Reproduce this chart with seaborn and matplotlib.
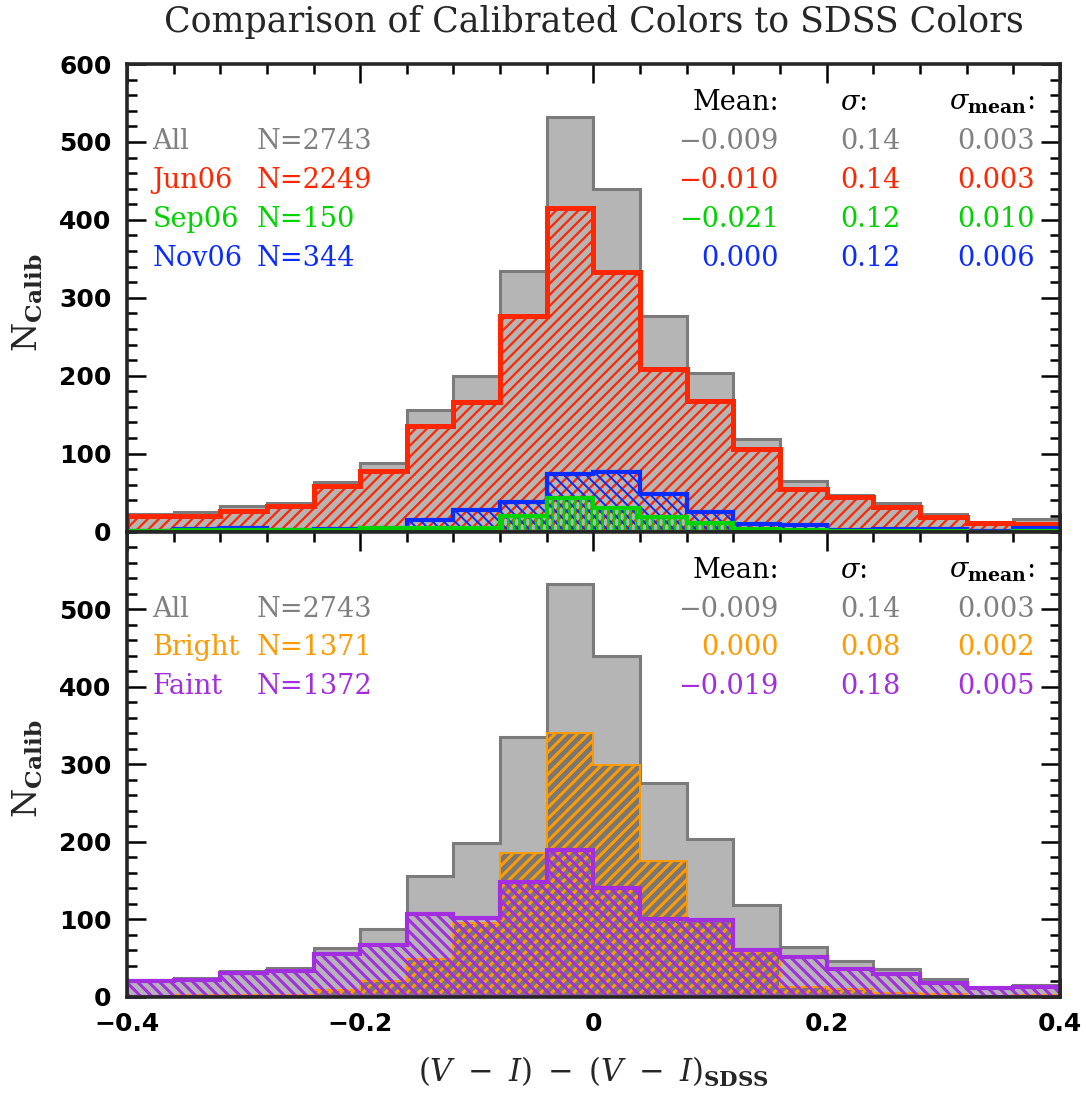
import numpy as np
import matplotlib
matplotlib.use("Agg")
import matplotlib.pyplot as plt
import seaborn as sns
from matplotlib.ticker import MultipleLocator

# ---- data -------------------------------------------------------------
# histogram bins of (V - I) - (V - I)_SDSS
bin_lo, bin_hi, bin_width = -0.4, 0.4, 0.04
edges = np.round(np.arange(bin_lo, bin_hi + bin_width / 2, bin_width), 2)
centers = (edges[:-1] + edges[1:]) / 2

# counts per bin
n_all = [22, 25, 33, 37, 63, 88, 156, 199, 335, 532, 440, 276, 203, 119, 65, 47, 36, 23, 12, 16]
n_jun06 = [20, 20, 26, 33, 58, 78, 136, 166, 277, 415, 333, 209, 168, 106, 55, 44, 32, 19, 11, 10]
n_sep06 = [1, 2, 2, 2, 2, 5, 5, 5, 20, 43, 30, 19, 11, 3, 2, 1, 1, 1, 0, 1]
n_nov06 = [1, 3, 5, 2, 3, 5, 15, 28, 38, 74, 77, 48, 25, 10, 8, 2, 3, 3, 1, 5]
n_bright = [1, 3, 2, 3, 9, 21, 49, 95, 185, 340, 299, 175, 101, 58, 13, 10, 5, 4, 0, 3]
n_faint = [20, 22, 31, 34, 55, 67, 107, 102, 148, 190, 140, 100, 99, 61, 52, 36, 30, 18, 11, 13]

# summary statistics printed in each panel
top_names = ["All", "Jun06", "Sep06", "Nov06"]
top_n = [2743, 2249, 150, 344]
top_mean = [-0.009, -0.010, -0.021, 0.000]
top_sigma = [0.14, 0.14, 0.12, 0.12]
top_sigma_mean = [0.003, 0.003, 0.010, 0.006]

bot_names = ["All", "Bright", "Faint"]
bot_n = [2743, 1371, 1372]
bot_mean = [-0.009, 0.000, -0.019]
bot_sigma = [0.14, 0.08, 0.18]
bot_sigma_mean = [0.003, 0.002, 0.005]

# ---- style ------------------------------------------------------------
GRAY_TXT = "#808080"
GRAY_FACE = "#b5b5b5"
GRAY_EDGE = "#7b7b7b"
RED = "#ff2600"
GREEN = "#00d400"
BLUE = "#0a2cff"
ORANGE = "#ff9a00"
PURPLE = "#a22ee0"

sns.set_theme(style="ticks")
plt.rcParams["font.family"] = ["DejaVu Serif"]
plt.rcParams["mathtext.fontset"] = "dejavuserif"
plt.rcParams["hatch.linewidth"] = 1.4

fig = plt.figure(figsize=(10.86, 11.08), dpi=100)
ax_top = fig.add_axes([0.1169, 0.5203, 0.8591, 0.4219])
ax_bot = fig.add_axes([0.1169, 0.1002, 0.8591, 0.4201])


def draw_hist(ax, counts, edge, face, lw, hatch=None, hatch_lw=None, z=1):
    sns.histplot(x=list(centers), weights=list(counts), bins=edges.tolist(),
                 element="step", fill=True, ax=ax, color=edge, alpha=1,
                 linewidth=lw, zorder=z)
    art = ax.collections[-1]
    art.set_facecolor(face)
    art.set_edgecolor(edge)
    art.set_linewidth(lw)
    art.set_joinstyle("miter")
    if hatch:
        art.set_hatch(hatch)
        if hatch_lw is not None and hasattr(art, "set_hatch_linewidth"):
            art.set_hatch_linewidth(hatch_lw)
    return art


# top panel: observing runs
draw_hist(ax_top, n_all, GRAY_EDGE, GRAY_FACE, 2.2, z=1)
draw_hist(ax_top, n_jun06, RED, "none", 3.6, hatch="///", hatch_lw=1.6, z=2)
draw_hist(ax_top, n_nov06, BLUE, "none", 3.0, hatch="\\\\\\", hatch_lw=1.4, z=3)
draw_hist(ax_top, n_sep06, GREEN, "none", 3.0, hatch="|||", hatch_lw=1.8, z=4)

# bottom panel: bright vs faint
draw_hist(ax_bot, n_all, GRAY_EDGE, GRAY_FACE, 2.2, z=1)
draw_hist(ax_bot, n_bright, ORANGE, "#777777", 1.4, hatch="///", hatch_lw=2.2, z=2)
draw_hist(ax_bot, n_faint, PURPLE, "none", 3.0, hatch="\\\\\\", hatch_lw=2.2, z=3)

tick_font = dict(family="DejaVu Sans", weight="bold", size=18)

for ax in (ax_top, ax_bot):
    ax.set_xlim(bin_lo, bin_hi)
    ax.set_ylim(0, 600)
    ax.xaxis.set_major_locator(MultipleLocator(0.2))
    ax.xaxis.set_minor_locator(MultipleLocator(0.04))
    ax.yaxis.set_major_locator(MultipleLocator(100))
    ax.yaxis.set_minor_locator(MultipleLocator(20))
    ax.tick_params(which="both", direction="in", top=True, right=True,
                   bottom=True, left=True, colors="black", zorder=10)
    ax.tick_params(which="major", length=14, width=1.8, pad=11)
    ax.tick_params(which="minor", length=7, width=1.8)
    for sp in ax.spines.values():
        sp.set_linewidth(2.6)
        sp.set_zorder(10)
        sp.set_visible(True)
    ax.set_xlabel("")
    ax.set_ylabel(r"$\mathrm{N}_{\mathbf{Calib}}$", fontsize=24)
    ax.yaxis.set_label_coords(-0.088, 0.49)
    ax.set_facecolor("white")

ax_top.tick_params(axis="x", labelbottom=False)
ax_top.set_yticks([0, 100, 200, 300, 400, 500, 600])
ax_bot.set_yticks([0, 100, 200, 300, 400, 500])
ax_bot.set_xticks([-0.4, -0.2, 0.0, 0.2, 0.4])
ax_bot.set_xticklabels(["\u22120.4", "\u22120.2", "0", "0.2", "0.4"])
ax_top.set_yticks(np.arange(0, 601, 20), minor=True)
ax_bot.set_yticks(np.arange(0, 601, 20), minor=True)
for ax in (ax_top, ax_bot):
    for lab in ax.get_yticklabels() + ax.get_xticklabels():
        lab.set_fontproperties(tick_font)

ax_bot.set_xlabel(r"$(V\ -\ I)\ -\ (V\ -\ I)_{\mathbf{SDSS}}$", fontsize=22)
ax_bot.xaxis.set_label_coords(0.5, -0.125)


def fmt(v, nd):
    return f"{v:.{nd}f}".replace("-", "\u2212")


def stats_block(ax, names, ns, means, sigmas, smeans, colors):
    fs = 19.5
    x_name, x_n, x_mean, x_sig, x_smean = -0.378, -0.2885, 0.159, 0.2114, 0.3786
    ax.text(x_mean, 550, "Mean:", ha="right", va="center", fontsize=fs, color="black")
    ax.text(x_sig, 550, r"$\sigma$:", ha="left", va="center", fontsize=fs, color="black")
    ax.text(x_smean, 550, r"$\sigma_{\mathbf{mean}}$:", ha="right", va="center",
            fontsize=fs, color="black")
    for i, (nm, n, m, s, sm, c) in enumerate(zip(names, ns, means, sigmas, smeans, colors)):
        y = 500 - 50 * i
        ax.text(x_name, y, nm, ha="left", va="center", fontsize=fs, color=c)
        ax.text(x_n, y, f"N={n}", ha="left", va="center", fontsize=fs, color=c)
        ax.text(x_mean, y, fmt(m, 3), ha="right", va="center", fontsize=fs, color=c)
        ax.text(x_sig, y, fmt(s, 2), ha="left", va="center", fontsize=fs, color=c)
        ax.text(x_smean, y, fmt(sm, 3), ha="right", va="center", fontsize=fs, color=c)


stats_block(ax_top, top_names, top_n, top_mean, top_sigma, top_sigma_mean,
            [GRAY_TXT, RED, GREEN, BLUE])
stats_block(ax_bot, bot_names, bot_n, bot_mean, bot_sigma, bot_sigma_mean,
            [GRAY_TXT, ORANGE, PURPLE])

fig.text(0.5465, 0.980, "Comparison of Calibrated Colors to SDSS Colors",
         ha="center", va="center", fontsize=25, family="DejaVu Serif")

fig.savefig("out.png", dpi=100, facecolor="white")
